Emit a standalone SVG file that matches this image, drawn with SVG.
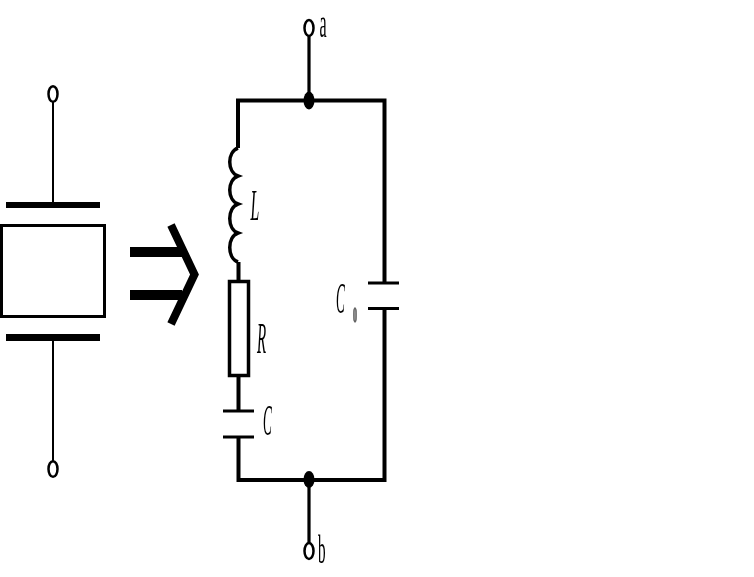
<svg xmlns="http://www.w3.org/2000/svg" width="754" height="577" viewBox="0 0 754 577">
<defs><filter id="gray" x="-20%" y="-20%" width="140%" height="140%" color-interpolation-filters="sRGB"><feOffset dx="0" dy="0"/></filter></defs>
<style>
.w{fill:none;stroke:#000;stroke-width:4}
.s{fill:none;stroke:#000;stroke-width:3.200}
.c{fill:none;stroke:#000;stroke-width:3.500}
.t{fill:#fff;stroke:#000;stroke-width:2.500}
.p{fill:none;stroke:#000;stroke-width:3}
.e{fill:none;stroke:#000;stroke-width:2.500}
.d{fill:#000}
.l{font-family:"Liberation Serif",serif;font-size:44px;font-style:italic;fill:#000;filter:url(#gray)}
.r{font-family:"Liberation Serif",serif;font-size:40px;fill:#000;filter:url(#gray)}
</style>
<rect width="754" height="577" fill="#fff"/>
<g id="connectors">
<path class="s" d="M309 36V100M309 480V543"/>
<path class="w" d="M238 148V100.500H384.500V283M384.500 308V480H238.500V437M238.500 411V376M238.500 281V262"/>
<path class="c" d="M238 148C227 152 227 172 238 176C227 180 227 200 238 204C227 208 227 229 238 233C227 237 227 258 238 262"/>
<path fill="none" stroke="#000" stroke-width="2" d="M53 101V203M53 340V461"/>
<path fill="none" stroke="#000" stroke-width="10" d="M130 252H182M130 295H182"/>
<path fill="none" stroke="#000" stroke-width="8" stroke-miterlimit="10" d="M171 225L194.500 274.500L171 324"/>
</g>
<g id="terminal-left-top"><ellipse class="e" cx="53" cy="94" rx="4.500" ry="7.800"/></g>
<g id="terminal-left-bottom"><ellipse class="e" cx="53" cy="469" rx="4.500" ry="7.800"/></g>
<g id="crystal">
<rect x="6" y="202" width="94" height="6" class="d"/>
<rect x="1.500" y="225.500" width="103" height="91" class="p"/>
<rect x="6" y="334" width="94" height="7" class="d"/>
</g>
<g id="terminal-a"><ellipse class="t" cx="309" cy="28" rx="4.500" ry="8"/>
<text class="r" transform="translate(319.500 37) scale(.4 1)">a</text></g>
<g id="node-top"><ellipse class="d" cx="309" cy="100.500" rx="5.500" ry="9"/></g>
<g id="inductor"><text class="l" transform="translate(250.500 220) scale(.36 1)">L</text></g>
<g id="resistor"><rect x="229.500" y="281.500" width="19" height="94" fill="#fff" stroke="#000" stroke-width="3.500"/>
<text class="l" transform="translate(257 353) scale(.34 1)">R</text></g>
<g id="capacitor-c"><path class="p" d="M223 411H254M223 437H254"/>
<text class="l" transform="translate(263 435) scale(.3 1)">C</text></g>
<g id="capacitor-c0"><path class="p" d="M368 283H399M368 308.500H399"/>
<text class="l" transform="translate(336 313) scale(.3 1)">C</text>
<text transform="translate(353 322) scale(.36 1)" font-family="Liberation Serif,serif" font-size="22" font-weight="bold" fill="#666" stroke="#666" stroke-width="1.500" filter="url(#gray)">0</text></g>
<g id="node-bottom"><ellipse class="d" cx="309" cy="479.500" rx="5.500" ry="8.500"/></g>
<g id="terminal-b"><ellipse class="t" cx="309" cy="551" rx="4.500" ry="8"/>
<text class="r" transform="translate(318 563) scale(.38 1)">b</text></g>
</svg>
